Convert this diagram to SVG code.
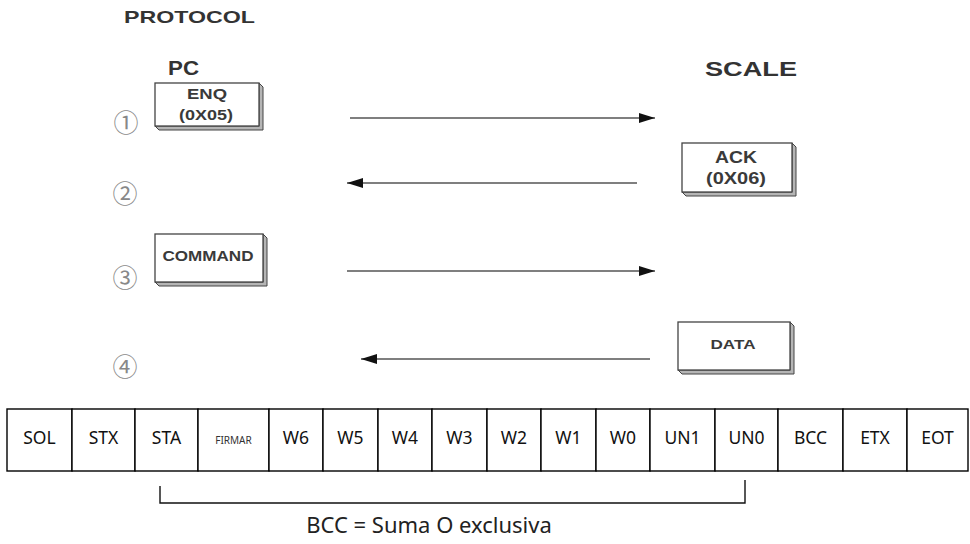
<svg xmlns="http://www.w3.org/2000/svg" width="970" height="544" viewBox="0 0 970 544">
<style>
.hdr{font-family:"Liberation Sans",Arial,sans-serif;font-weight:bold;fill:#333}
.box{fill:#fff;stroke:#444;stroke-width:1.3}
.bev{fill:#b5b5b5;stroke:#444;stroke-width:1}
.bt{font-family:"Liberation Sans",Arial,sans-serif;font-weight:bold;fill:#3a3a3a;text-anchor:middle}
.num{font-family:"Noto Sans CJK JP","DejaVu Sans",sans-serif;font-size:25px;fill:#888;text-anchor:middle}
.arr{stroke:#555;stroke-width:1.5;fill:none}
.cell{fill:#fff;stroke:#000;stroke-width:1.4}
.ct{font-family:"Noto Sans","Open Sans",sans-serif;fill:#111;text-anchor:middle}
</style>
<defs>
<marker id="ah" viewBox="0 0 16 10" refX="16" refY="5" markerWidth="16" markerHeight="10" markerUnits="userSpaceOnUse" orient="auto">
<path d="M0,0 L16,5 L0,10 Z" fill="#111"/>
</marker>
</defs>

<g id="title"><text class="hdr" x="124" y="23" font-size="17" textLength="131" lengthAdjust="spacingAndGlyphs">PROTOCOL</text></g>
<g id="pc-label"><text class="hdr" x="168" y="75" font-size="20" textLength="31" lengthAdjust="spacingAndGlyphs">PC</text></g>
<g id="scale-label"><text class="hdr" x="705" y="76" font-size="21" textLength="92" lengthAdjust="spacingAndGlyphs">SCALE</text></g>

<g id="step1"><text class="num" x="126" y="132">①</text></g>
<g id="step2"><text class="num" x="125" y="203">②</text></g>
<g id="step3"><text class="num" x="125" y="287">③</text></g>
<g id="step4"><text class="num" x="125" y="376">④</text></g>

<g id="enq">
<polygon class="bev" points="259,83 263,87 263,130 159,130 155,126 259,126"/>
<rect class="box" x="155" y="83" width="104" height="43"/>
<text class="bt" x="207" y="99" font-size="15" textLength="40" lengthAdjust="spacingAndGlyphs">ENQ</text>
<text class="bt" x="206" y="120" font-size="15" textLength="54" lengthAdjust="spacingAndGlyphs">(0X05)</text>
</g>

<g id="ack">
<polygon class="bev" points="792,143 796,147 796,196 686,196 682,192 792,192"/>
<rect class="box" x="682" y="143" width="110" height="49"/>
<text class="bt" x="736" y="163" font-size="16" textLength="42" lengthAdjust="spacingAndGlyphs">ACK</text>
<text class="bt" x="736" y="184" font-size="16" textLength="60" lengthAdjust="spacingAndGlyphs">(0X06)</text>
</g>

<g id="command">
<polygon class="bev" points="263,234 267,238 267,286 159,286 155,282 263,282"/>
<rect class="box" x="155" y="234" width="108" height="48"/>
<text class="bt" x="208" y="261" font-size="14" textLength="91" lengthAdjust="spacingAndGlyphs">COMMAND</text>
</g>

<g id="data">
<polygon class="bev" points="790,322 794,326 794,374 682,374 678,370 790,370"/>
<rect class="box" x="678" y="322" width="112" height="48"/>
<text class="bt" x="733" y="349" font-size="13.5" textLength="45" lengthAdjust="spacingAndGlyphs">DATA</text>
</g>

<g id="connectors">
<line class="arr" x1="350" y1="118" x2="655" y2="118" marker-end="url(#ah)"/>
<line class="arr" x1="637" y1="183" x2="347" y2="183" marker-end="url(#ah)"/>
<line class="arr" x1="347" y1="271" x2="655" y2="271" marker-end="url(#ah)"/>
<line class="arr" x1="650" y1="359" x2="361" y2="359" marker-end="url(#ah)"/>
</g>

<g id="frame">
<rect class="cell" x="7" y="409" width="65" height="62"/>
<rect class="cell" x="72" y="409" width="63" height="62"/>
<rect class="cell" x="135" y="409" width="63" height="62"/>
<rect class="cell" x="198" y="409" width="71" height="62"/>
<rect class="cell" x="269" y="409" width="54" height="62"/>
<rect class="cell" x="323" y="409" width="55" height="62"/>
<rect class="cell" x="378" y="409" width="54" height="62"/>
<rect class="cell" x="432" y="409" width="55" height="62"/>
<rect class="cell" x="487" y="409" width="54" height="62"/>
<rect class="cell" x="541" y="409" width="55" height="62"/>
<rect class="cell" x="596" y="409" width="54" height="62"/>
<rect class="cell" x="650" y="409" width="65" height="62"/>
<rect class="cell" x="715" y="409" width="63" height="62"/>
<rect class="cell" x="778" y="409" width="65" height="62"/>
<rect class="cell" x="843" y="409" width="64" height="62"/>
<rect class="cell" x="907" y="409" width="61" height="62"/>
<g style="font-size:17.5px">
<text class="ct" x="39.5" y="444">SOL</text>
<text class="ct" x="103.5" y="444">STX</text>
<text class="ct" x="166.5" y="444">STA</text>
<text class="ct" x="296" y="444">W6</text>
<text class="ct" x="350.5" y="444">W5</text>
<text class="ct" x="405" y="444">W4</text>
<text class="ct" x="459.5" y="444">W3</text>
<text class="ct" x="514" y="444">W2</text>
<text class="ct" x="568.5" y="444">W1</text>
<text class="ct" x="623" y="444">W0</text>
<text class="ct" x="682.5" y="444">UN1</text>
<text class="ct" x="746.5" y="444">UN0</text>
<text class="ct" x="810.5" y="444">BCC</text>
<text class="ct" x="875" y="444">ETX</text>
<text class="ct" x="937.5" y="444">EOT</text>
</g>
<text class="ct" x="233.5" y="444" style="font-size:10px;fill:#333">FIRMAR</text>
</g>

<g id="bracket">
<path d="M160,486 V503 H745 V480" fill="none" stroke="#111" stroke-width="1.4"/>
<text class="ct" x="429" y="533" style="font-size:22px;fill:#222">BCC = Suma O exclusiva</text>
</g>
</svg>
